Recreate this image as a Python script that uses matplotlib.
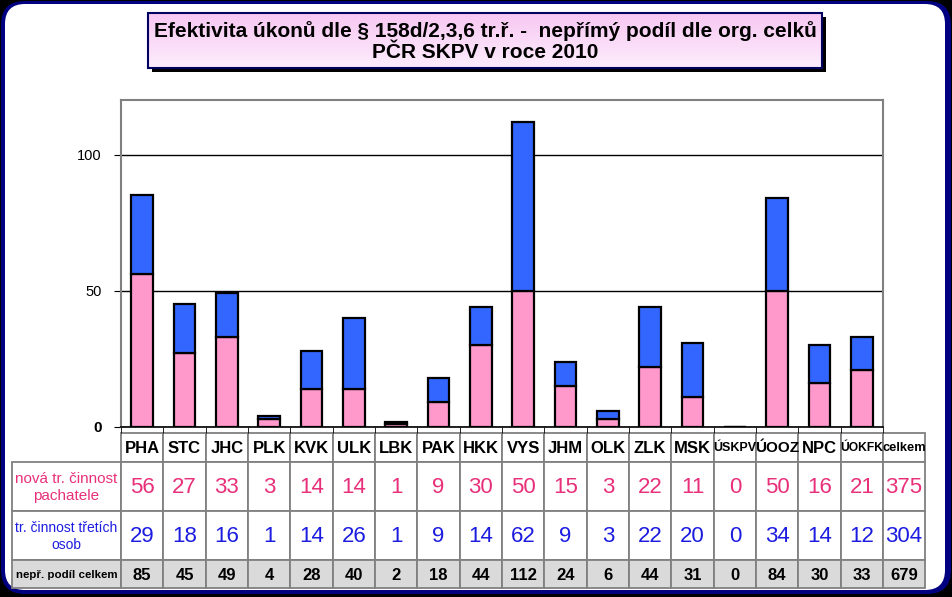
import numpy as np
import matplotlib
matplotlib.use('Agg')  # Non-interactive backend
import matplotlib.pyplot as plt
from matplotlib.patches import FancyBboxPatch, Rectangle

# --- Data ---
categories = ['PHA', 'STC', 'JHC', 'PLK', 'KVK', 'ULK', 'LBK', 'PAK', 'HKK',
              'VYS', 'JHM', 'OLK', 'ZLK', 'MSK', 'ÚSKPV', 'ÚOOZ', 'NPC', 'ÚOKFK']
nova = [56, 27, 33, 3, 14, 14, 1, 9, 30, 50, 15, 3, 22, 11, 0, 50, 16, 21]
treti = [29, 18, 16, 1, 14, 26, 1, 9, 14, 62, 9, 3, 22, 20, 0, 34, 14, 12]
podil = [85, 45, 49, 4, 28, 40, 2, 18, 44, 112, 24, 6, 44, 31, 0, 84, 30, 33]
total_label = 'celkem'
total_nova = 375
total_treti = 304
total_podil = 679

row_labels = ['nová tr. činnost\npachatele', 'tr. činnost třetích\nosob', 'nepř. podíl celkem']
title = ('Efektivita úkonů dle § 158d/2,3,6 tr.ř. -  nepřímý podíl dle org. celků\n'
         'PČR SKPV v roce 2010')

PINK = '#FF99CC'
BLUE = '#3366FF'
PINK_TXT = '#E8307A'
BLUE_TXT = '#1C1CE0'
plt.rcParams['font.family'] = ['Liberation Sans', 'DejaVu Sans']

W, H = 952, 597
fig = plt.figure(figsize=(W / 100, H / 100), dpi=100, facecolor='black')
renderer = fig.canvas.get_renderer()


def fit_text(txt, max_w):
    # shrink a text until it fits into its table cell
    while txt.get_window_extent(renderer).width > max_w and txt.get_fontsize() > 6:
        txt.set_fontsize(txt.get_fontsize() - 0.25)
    return txt


# --- Background layer in pixel coordinates ---
bg = fig.add_axes([0, 0, 1, 1], zorder=0)
bg.set_xlim(0, W)
bg.set_ylim(H, 0)
bg.axis('off')

bg.add_patch(FancyBboxPatch((1, 1), 950, 593, boxstyle='round,pad=0,rounding_size=24',
                            fc='#000080', ec='none'))
bg.add_patch(FancyBboxPatch((5, 4), 940, 586, boxstyle='round,pad=0,rounding_size=20',
                            fc='white', ec='none'))

# title box with shadow and pink gradient
tx0, tx1, ty0, ty1 = 148, 822, 13, 68
bg.add_patch(Rectangle((tx0 + 4, ty0 + 4), tx1 - tx0, ty1 - ty0, fc='black', ec='none'))
top_c = np.array([0.97, 0.78, 0.95])
bot_c = np.array([0.99, 0.93, 0.99])
t = np.linspace(0, 1, 64)[:, None]
grad = (top_c * (1 - t) + bot_c * t)[:, None, :]
bg.imshow(grad, extent=(tx0, tx1, ty1, ty0), origin='upper', aspect='auto', zorder=2)
bg.add_patch(Rectangle((tx0, ty0), tx1 - tx0, ty1 - ty0, fc='none', ec='#000060', lw=1.5, zorder=3))
bg.text((tx0 + tx1) / 2, (ty0 + ty1) / 2 + 1, title, ha='center', va='center',
        fontsize=15, fontweight='bold', linespacing=1.12, zorder=4)
bg.set_xlim(0, W)
bg.set_ylim(H, 0)

# --- Chart ---
px0, px1, py0, py1 = 121, 883, 100, 427
ax = fig.add_axes([px0 / W, (H - py1) / H, (px1 - px0) / W, (py1 - py0) / H], zorder=2)
x = np.arange(len(categories))
ax.bar(x, nova, width=0.51, color=PINK, edgecolor='black', linewidth=1.6, zorder=3)
ax.bar(x, treti, width=0.51, bottom=nova, color=BLUE, edgecolor='black', linewidth=1.6, zorder=3)
ax.set_xlim(-0.5, len(categories) - 0.5)
ax.set_ylim(0, 120)
ax.set_yticks([0, 50, 100])
ax.yaxis.grid(True, color='black', linewidth=1)
ax.set_axisbelow(True)
ax.set_xticks([])
ax.set_xticks(np.arange(-0.5, len(categories), 1), minor=True)
ax.tick_params(axis='x', which='minor', length=4, direction='out', color='black')
ax.tick_params(axis='y', length=5, direction='out', color='black', pad=9, labelsize=10.5)
for lab in ax.get_yticklabels():
    if lab.get_text() == '0':
        lab.set_fontweight('bold')
        lab.set_fontsize(11)
for s in ['left', 'top', 'right']:
    ax.spines[s].set_color('#808080')
    ax.spines[s].set_linewidth(1.5)
ax.spines['bottom'].set_color('black')
ax.spines['bottom'].set_linewidth(1.2)

# --- Data table under the chart ---
col_w = (px1 - px0) / len(categories)
row_y = [432.7, 461.7, 510.7, 560, 588]
lab_x0 = 11.7
grid_c = '#808080'
heads = categories + [total_label]
rows = [nova + [total_nova], treti + [total_treti], podil + [total_podil]]
row_colors = [PINK_TXT, BLUE_TXT, 'black']
row_fc = ['white', 'white', '#DADADA']

for i, h in enumerate(heads):
    cx = px0 + i * col_w
    bg.add_patch(Rectangle((cx, row_y[0]), col_w, row_y[1] - row_y[0], fc='white', ec=grid_c, lw=1.3))
    ht = bg.text(cx + col_w / 2, (row_y[0] + row_y[1]) / 2 + 1, h, ha='center', va='center',
                 fontsize=12, fontweight='bold', zorder=4)
    fit_text(ht, col_w + 2)

for r, vals in enumerate(rows):
    y0, y1 = row_y[r + 1], row_y[r + 2]
    bg.add_patch(Rectangle((lab_x0, y0), px0 - lab_x0, y1 - y0, fc=row_fc[r], ec=grid_c, lw=1.3))
    lt = bg.text((lab_x0 + px0) / 2, (y0 + y1) / 2 + 1, row_labels[r], ha='center', va='center',
                 fontsize=11, color=row_colors[r],
                 fontweight='bold' if r == 2 else 'normal', linespacing=1.3)
    fit_text(lt, px0 - lab_x0 - 6)
    for i, v in enumerate(vals):
        cx = px0 + i * col_w
        bg.add_patch(Rectangle((cx, y0), col_w, y1 - y0, fc=row_fc[r], ec=grid_c, lw=1.3))
        vt = bg.text(cx + col_w / 2, (y0 + y1) / 2 + 1, str(v), ha='center', va='center',
                     fontsize=16 if r < 2 else 12, color=row_colors[r],
                     fontweight='bold' if r == 2 else 'normal')
        fit_text(vt, col_w - 4)

fig.savefig('out.png', dpi=100, facecolor='black')
